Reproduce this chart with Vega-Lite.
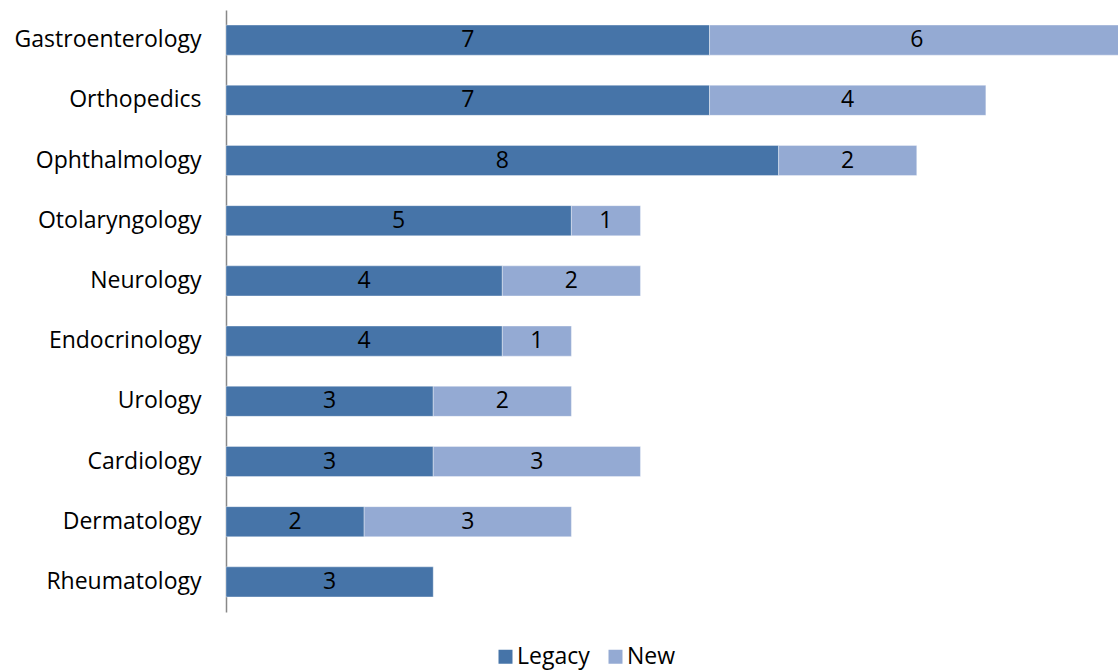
{
  "$schema": "https://vega.github.io/schema/vega-lite/v6.json",
  "width": 898,
  "height": 602,
  "autosize": {"type": "none"},
  "padding": {"left": 226, "top": 10, "right": 0, "bottom": 58},
  "background": "white",
  "config": {"view": {"stroke": null}, "font": "Open Sans"},
  "data": {"values": [
    {"specialty": "Gastroenterology", "series": "Legacy", "value": 7},
    {"specialty": "Gastroenterology", "series": "New", "value": 6},
    {"specialty": "Orthopedics", "series": "Legacy", "value": 7},
    {"specialty": "Orthopedics", "series": "New", "value": 4},
    {"specialty": "Ophthalmology", "series": "Legacy", "value": 8},
    {"specialty": "Ophthalmology", "series": "New", "value": 2},
    {"specialty": "Otolaryngology", "series": "Legacy", "value": 5},
    {"specialty": "Otolaryngology", "series": "New", "value": 1},
    {"specialty": "Neurology", "series": "Legacy", "value": 4},
    {"specialty": "Neurology", "series": "New", "value": 2},
    {"specialty": "Endocrinology", "series": "Legacy", "value": 4},
    {"specialty": "Endocrinology", "series": "New", "value": 1},
    {"specialty": "Urology", "series": "Legacy", "value": 3},
    {"specialty": "Urology", "series": "New", "value": 2},
    {"specialty": "Cardiology", "series": "Legacy", "value": 3},
    {"specialty": "Cardiology", "series": "New", "value": 3},
    {"specialty": "Dermatology", "series": "Legacy", "value": 2},
    {"specialty": "Dermatology", "series": "New", "value": 3},
    {"specialty": "Rheumatology", "series": "Legacy", "value": 3}
  ]},
  "transform": [
    {"stack": "value", "groupby": ["specialty"], "sort": [{"field": "series", "order": "ascending"}], "as": ["v0", "v1"]}
  ],
  "encoding": {
    "y": {
      "field": "specialty", "type": "nominal",
      "sort": ["Gastroenterology", "Orthopedics", "Ophthalmology", "Otolaryngology", "Neurology", "Endocrinology", "Urology", "Cardiology", "Dermatology", "Rheumatology"],
      "scale": {"paddingInner": 0.5, "paddingOuter": 0.25},
      "axis": {"title": null, "ticks": false, "labelPadding": 25, "labelLimit": 400, "labelFontSize": 23, "labelColor": "#000", "labelFont": "Open Sans", "domainColor": "#888888", "domainWidth": 1.5, "grid": false}
    }
  },
  "layer": [
    {
      "mark": {"type": "bar", "stroke": "#ffffff", "strokeWidth": 0.6, "strokeOpacity": 0.6},
      "encoding": {
        "x": {"field": "v0", "type": "quantitative", "scale": {"domain": [0, 13], "nice": false}, "axis": null},
        "x2": {"field": "v1"},
        "color": {
          "field": "series", "type": "nominal",
          "scale": {"domain": ["Legacy", "New"], "range": ["#4674A8", "#94AAD3"]},
          "legend": {"title": null, "orient": "none", "legendX": 268, "legendY": 635, "direction": "horizontal", "symbolType": "square", "symbolSize": 196, "symbolStrokeWidth": 0, "labelFontSize": 23, "labelFont": "Open Sans", "labelColor": "#000", "labelOffset": 0, "columnPadding": 14}
        }
      }
    },
    {
      "transform": [
        {"fold": ["v0", "v1"], "as": ["edge", "pos"]},
        {"aggregate": [{"op": "mean", "field": "pos", "as": "mid"}, {"op": "max", "field": "value", "as": "label"}], "groupby": ["specialty", "series"]}
      ],
      "mark": {"type": "text", "fontSize": 23, "color": "#000", "font": "Open Sans", "baseline": "middle", "align": "center"},
      "encoding": {
        "x": {"field": "mid", "type": "quantitative"},
        "text": {"field": "label", "type": "quantitative"}
      }
    }
  ]
}
